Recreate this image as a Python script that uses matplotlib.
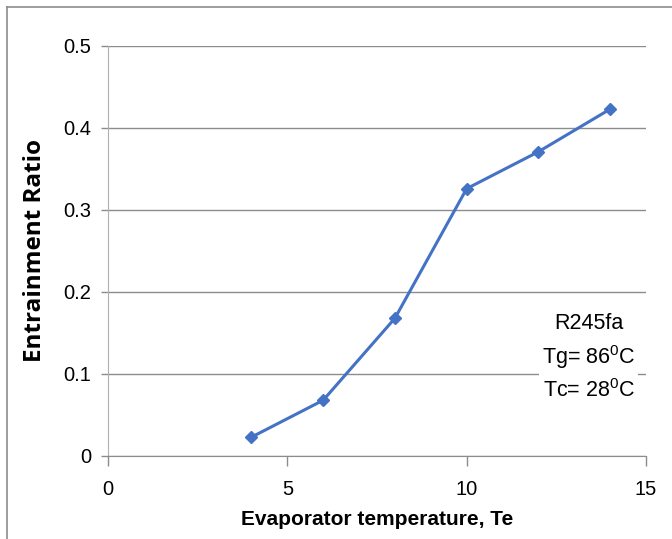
import matplotlib
matplotlib.use("Agg")
import matplotlib.pyplot as plt

# Evaporator temperature and entrainment ratio for R245fa
te = [4, 6, 8, 10, 12, 14]
ratio = [0.023, 0.068, 0.168, 0.326, 0.371, 0.423]
xticks = [0, 5, 10, 15]
yticks = [0, 0.1, 0.2, 0.3, 0.4, 0.5]
ytick_labels = ["0", "0.1", "0.2", "0.3", "0.4", "0.5"]

plt.rcParams["font.family"] = ["Liberation Sans", "DejaVu Sans"]
plt.rcParams["mathtext.fontset"] = "custom"
plt.rcParams["mathtext.rm"] = "Liberation Sans"

fig = plt.figure(figsize=(6.72, 5.39), dpi=100)
ax = fig.add_axes([0.1607, 0.154, 0.8006, 0.7607])

ax.plot(te, ratio, color="#4472C4", lw=2.2, marker="D", ms=6, zorder=3)

ax.set_xlim(0, 15)
ax.set_ylim(0, 0.5)
ax.set_xticks(xticks)
ax.set_yticks(yticks)
ax.set_xticklabels([str(v) for v in xticks])
ax.set_yticklabels(ytick_labels)
ax.tick_params(axis="both", labelsize=14.5, color="#8c8c8c", width=1)
ax.tick_params(axis="x", length=7, pad=10)
ax.tick_params(axis="y", length=5, pad=7)
ax.grid(axis="y", color="#8c8c8c", lw=1)
ax.set_axisbelow(True)
for s in ["top", "right"]:
    ax.spines[s].set_visible(False)
ax.spines["left"].set_color("#b0b0b0")
ax.spines["bottom"].set_color("#8c8c8c")

ax.set_xlabel("Evaporator temperature, Te", fontsize=15, fontweight="bold", labelpad=8)
ax.set_ylabel("Entrainment Ratio", fontsize=17.5, fontweight="bold",
              family=["Open Sans", "DejaVu Sans"], labelpad=12)

ax.text(13.4, 0.12, "R245fa\nTg= 86$^{0}$C\nTc= 28$^{0}$C", fontsize=15.5,
        ha="center", va="center", linespacing=1.45,
        bbox=dict(facecolor="white", edgecolor="none", pad=2))

# frame around the chart area
fig.add_artist(plt.Line2D([7 / 672, 1], [1 - 7 / 539, 1 - 7 / 539], color="#8c8c8c", lw=1.2))
fig.add_artist(plt.Line2D([7 / 672, 7 / 672], [0, 1 - 7 / 539], color="#8c8c8c", lw=1.2))

fig.savefig("out.png", dpi=100)
